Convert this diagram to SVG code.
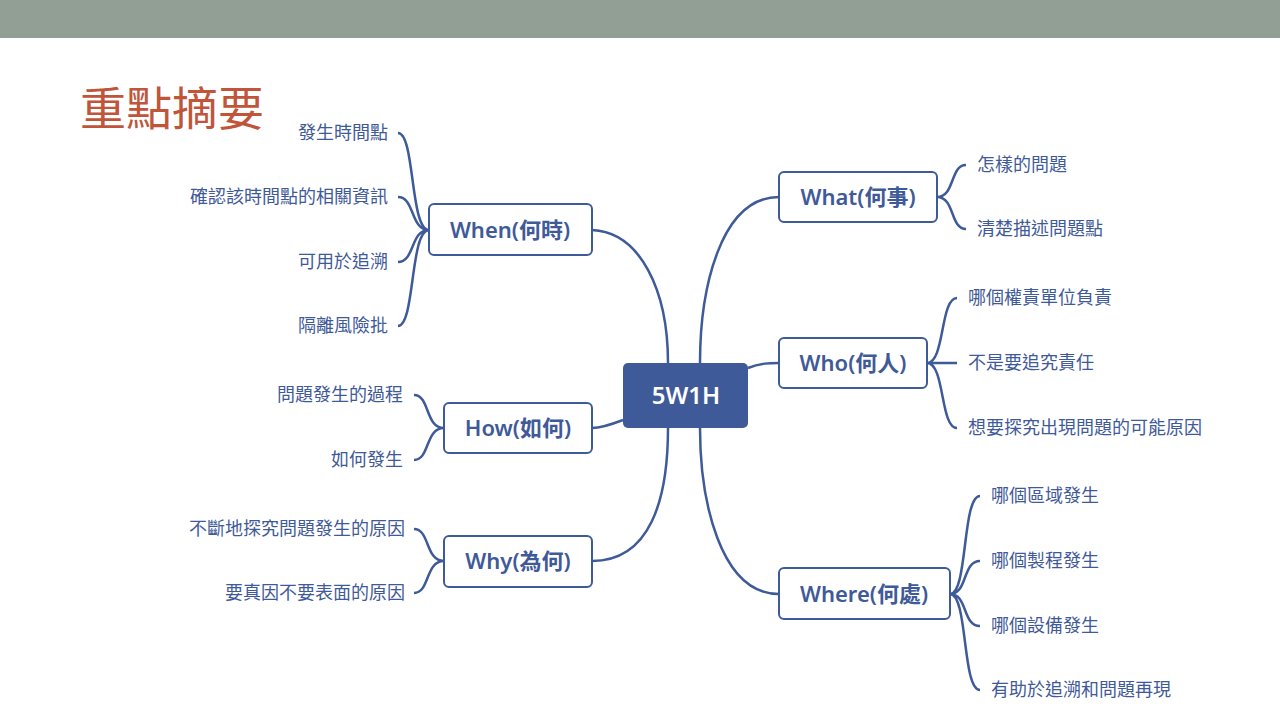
<svg xmlns="http://www.w3.org/2000/svg" width="1280" height="720" viewBox="0 0 1280 720">
<style>
.n{fill:#fff;stroke:#3f5a99;stroke-width:2}
.nt{font-family:"Noto Sans","Noto Sans CJK TC",sans-serif;font-size:22px;font-weight:600;fill:#3f5a99;text-anchor:middle}
.l{font-family:"Noto Sans CJK TC",sans-serif;font-size:18px;fill:#3f5a99}
.r{text-anchor:end}
.c path{fill:none;stroke:#3f5a99;stroke-width:2.5}
</style>
<rect width="1280" height="720" fill="#fff"/>
<rect width="1280" height="38" fill="#929f94"/>
<text x="80" y="125" font-family="Noto Sans CJK TC,sans-serif" font-size="46" fill="#c0553a">重點摘要</text>
<g class="c">
<path d="M668,363 C668,290 640,232 592,230"/>
<path d="M700,363 C700,290 720,197 779,197"/>
<path d="M748,368 C760,363 770,363 779,363"/>
<path d="M700,428 C700,500 720,594 779,594"/>
<path d="M668,428 C668,500 650,561 592,561"/>
<path d="M623,420 C610,425 600,428 592,428"/>
<path d="M429,230 C410,230 415,133 398,133 M429,230 C410,230 415,197 398,197 M429,230 C410,230 415,262 398,262 M429,230 C410,230 415,326 398,326"/>
<path d="M444,428 C425,428 430,395 414,395 M444,428 C425,428 430,460 414,460"/>
<path d="M444,561 C425,561 430,529 414,529 M444,561 C425,561 430,593 414,593"/>
<path d="M937,197 C955,197 950,165 966,165 M937,197 C955,197 950,229 966,229"/>
<path d="M927,363 C945,363 940,298 957,298 M927,363 C945,363 940,363 957,363 M927,363 C945,363 940,428 957,428"/>
<path d="M950,594 C968,594 962,496 980,496 M950,594 C968,594 962,561 980,561 M950,594 C968,594 962,626 980,626 M950,594 C968,594 962,690 980,690"/>
</g>
<g id="center"><rect x="623" y="363" width="125" height="65" rx="5" fill="#3f5a99"/><text x="686" y="404" class="nt" fill="#fff" style="fill:#fff;font-size:24px">5W1H</text></g>
<g id="when"><rect class="n" x="429" y="204" width="163" height="51" rx="5"/><text class="nt" x="510" y="238">When(何時)</text></g>
<g id="how"><rect class="n" x="444" y="403" width="148" height="50" rx="5"/><text class="nt" x="518" y="436">How(如何)</text></g>
<g id="why"><rect class="n" x="444" y="536" width="148" height="51" rx="5"/><text class="nt" x="518" y="569">Why(為何)</text></g>
<g id="what"><rect class="n" x="779" y="172" width="158" height="50" rx="5"/><text class="nt" x="858" y="205">What(何事)</text></g>
<g id="who"><rect class="n" x="779" y="338" width="148" height="50" rx="5"/><text class="nt" x="853" y="371">Who(何人)</text></g>
<g id="where"><rect class="n" x="779" y="568" width="171" height="51" rx="5"/><text class="nt" x="864" y="602">Where(何處)</text></g>
<g class="l">
<text class="r" x="388" y="139">發生時間點</text>
<text class="r" x="388" y="203">確認該時間點的相關資訊</text>
<text class="r" x="388" y="268">可用於追溯</text>
<text class="r" x="388" y="332">隔離風險批</text>
<text class="r" x="403" y="401">問題發生的過程</text>
<text class="r" x="403" y="466">如何發生</text>
<text class="r" x="405" y="535">不斷地探究問題發生的原因</text>
<text class="r" x="405" y="599">要真因不要表面的原因</text>
<text x="977" y="171">怎樣的問題</text>
<text x="977" y="235">清楚描述問題點</text>
<text x="968" y="304">哪個權責單位負責</text>
<text x="968" y="369">不是要追究責任</text>
<text x="968" y="434">想要探究出現問題的可能原因</text>
<text x="991" y="502">哪個區域發生</text>
<text x="991" y="567">哪個製程發生</text>
<text x="991" y="632">哪個設備發生</text>
<text x="991" y="696">有助於追溯和問題再現</text>
</g>
</svg>
